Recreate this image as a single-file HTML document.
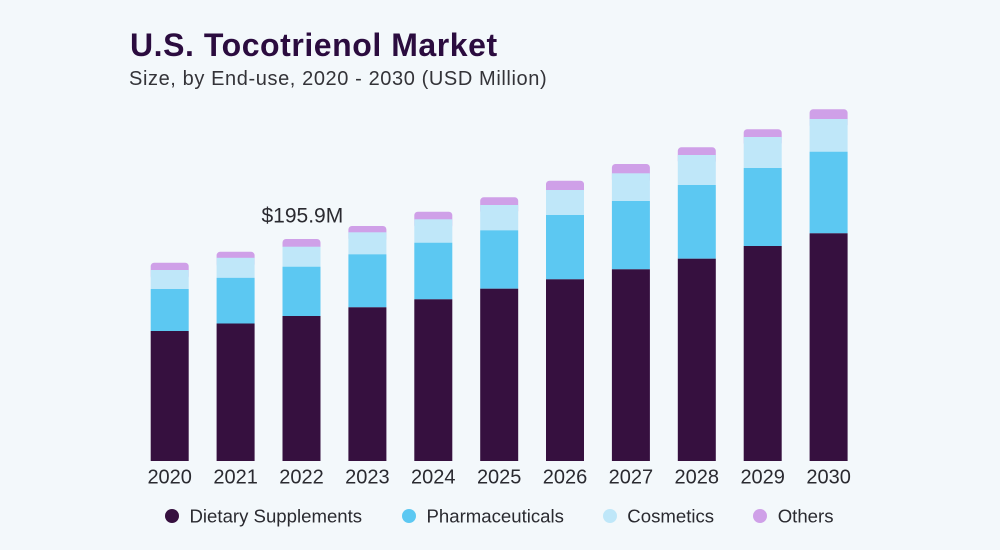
<!DOCTYPE html>
<html>
<head>
<meta charset="utf-8">
<style>
  html,body{margin:0;padding:0;background:#f3f8fb;}
  svg{display:block;}
  text{font-family:"Liberation Sans",Arial,sans-serif;}
</style>
</head>
<body>
<svg width="1000" height="550" viewBox="0 0 1000 550" xmlns="http://www.w3.org/2000/svg">
  <rect x="0" y="0" width="1000" height="550" fill="#f3f8fb"/>

  <!-- Title -->
  <text x="130" y="56" font-size="32" font-weight="bold" fill="#2b0c3f" letter-spacing="0.55">U.S. Tocotrienol Market</text>
  <text x="129" y="85" font-size="20" fill="#333338" letter-spacing="0.6">Size, by End-use, 2020 - 2030 (USD Million)</text>

  <!-- Others (rounded tops) -->
  <g fill="#cfa0e8">
    <rect x="150.7" y="262.7" width="38" height="17" rx="3.5"/>
    <rect x="216.6" y="251.8" width="38" height="16" rx="3.5"/>
    <rect x="282.5" y="239" width="38" height="17" rx="3.5"/>
    <rect x="348.4" y="226" width="38" height="16" rx="3.5"/>
    <rect x="414.3" y="211.7" width="38" height="17" rx="3.5"/>
    <rect x="480.2" y="197.3" width="38" height="17" rx="3.5"/>
    <rect x="546.0" y="180.7" width="38" height="19" rx="3.5"/>
    <rect x="611.9" y="164" width="38" height="19" rx="3.5"/>
    <rect x="677.8" y="147.3" width="38" height="17" rx="3.5"/>
    <rect x="743.7" y="129.2" width="38" height="17" rx="3.5"/>
    <rect x="809.6" y="109.3" width="38" height="19" rx="3.5"/>
  </g>
  <!-- Cosmetics -->
  <g fill="#bfe7f9">
    <rect x="150.7" y="270" width="38" height="19"/>
    <rect x="216.6" y="257.8" width="38" height="20"/>
    <rect x="282.5" y="246.7" width="38" height="20"/>
    <rect x="348.4" y="232.3" width="38" height="22"/>
    <rect x="414.3" y="219.3" width="38" height="23.4"/>
    <rect x="480.2" y="205" width="38" height="25.3"/>
    <rect x="546.0" y="190" width="38" height="25"/>
    <rect x="611.9" y="173.3" width="38" height="27.7"/>
    <rect x="677.8" y="155" width="38" height="30"/>
    <rect x="743.7" y="137" width="38" height="31"/>
    <rect x="809.6" y="119" width="38" height="32.7"/>
  </g>
  <!-- Pharmaceuticals -->
  <g fill="#5cc8f2">
    <rect x="150.7" y="289" width="38" height="42"/>
    <rect x="216.6" y="277.8" width="38" height="45.7"/>
    <rect x="282.5" y="266.7" width="38" height="49.3"/>
    <rect x="348.4" y="254.3" width="38" height="53"/>
    <rect x="414.3" y="242.7" width="38" height="56.6"/>
    <rect x="480.2" y="230.3" width="38" height="58.4"/>
    <rect x="546.0" y="215" width="38" height="64.3"/>
    <rect x="611.9" y="201" width="38" height="68.3"/>
    <rect x="677.8" y="185" width="38" height="73.7"/>
    <rect x="743.7" y="168" width="38" height="78"/>
    <rect x="809.6" y="151.7" width="38" height="81.6"/>
  </g>
  <!-- Dietary Supplements -->
  <g fill="#36103f">
    <rect x="150.7" y="331" width="38" height="130"/>
    <rect x="216.6" y="323.5" width="38" height="137.5"/>
    <rect x="282.5" y="316" width="38" height="145"/>
    <rect x="348.4" y="307.3" width="38" height="153.7"/>
    <rect x="414.3" y="299.3" width="38" height="161.7"/>
    <rect x="480.2" y="288.7" width="38" height="172.3"/>
    <rect x="546.0" y="279.3" width="38" height="181.7"/>
    <rect x="611.9" y="269.3" width="38" height="191.7"/>
    <rect x="677.8" y="258.7" width="38" height="202.3"/>
    <rect x="743.7" y="246" width="38" height="215"/>
    <rect x="809.6" y="233.3" width="38" height="227.7"/>
  </g>

  <!-- Annotation -->
  <text x="261.5" y="222.7" font-size="21" fill="#2a2a30">$195.9M</text>

  <!-- Year labels -->
  <g font-size="20" fill="#2a2a30" text-anchor="middle">
    <text x="169.7" y="483.5">2020</text>
    <text x="235.6" y="483.5">2021</text>
    <text x="301.5" y="483.5">2022</text>
    <text x="367.4" y="483.5">2023</text>
    <text x="433.3" y="483.5">2024</text>
    <text x="499.2" y="483.5">2025</text>
    <text x="565.0" y="483.5">2026</text>
    <text x="630.9" y="483.5">2027</text>
    <text x="696.8" y="483.5">2028</text>
    <text x="762.7" y="483.5">2029</text>
    <text x="828.6" y="483.5">2030</text>
  </g>

  <!-- Legend -->
  <g font-size="18.6" fill="#2a2a30">
    <circle cx="172" cy="516" r="7" fill="#36103f"/>
    <text x="189.5" y="522.3">Dietary Supplements</text>
    <circle cx="409" cy="516" r="7" fill="#5cc8f2"/>
    <text x="426.5" y="522.3">Pharmaceuticals</text>
    <circle cx="610" cy="516" r="7" fill="#bfe7f9"/>
    <text x="627.3" y="522.3">Cosmetics</text>
    <circle cx="760" cy="516" r="7" fill="#cfa0e8"/>
    <text x="777.7" y="522.3">Others</text>
  </g>
</svg>
</body>
</html>
